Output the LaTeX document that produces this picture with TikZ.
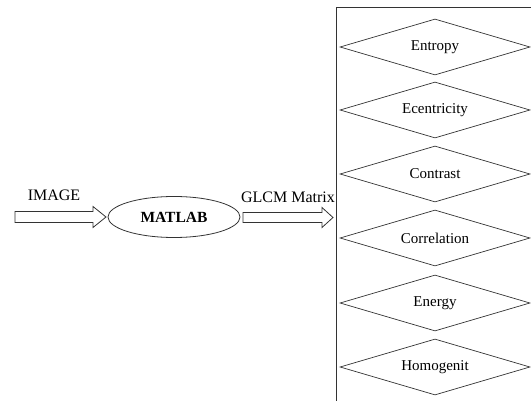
\documentclass[tikz,border=0pt]{standalone}
\usepackage{fontspec}
\setmainfont{Liberation Serif}
\usetikzlibrary{shapes.geometric}
\tikzset{
  feat/.style={draw=black!80, line width=0.7pt, shape=diamond, aspect=3.4, minimum width=190pt, minimum height=56pt, inner sep=0pt, font=\fontsize{15}{17}\selectfont},
  lbl/.style={font=\fontsize{16}{18}\selectfont, inner sep=0pt},
  barrow/.style={draw=black!80, line width=0.8pt, fill=white},
}
\begin{document}
\begin{tikzpicture}[x=1pt,y=-1pt]
\useasboundingbox (0,0) rectangle (531,401);
\clip (0,0) rectangle (531,401);
% container
\draw[black!80, line width=0.8pt] (336,7) rectangle (545,401);
% features
\node[feat] (f1) at (435,47) {Entropy};
\node[feat] (f2) at (435,110) {Ecentricity};
\node[feat] (f3) at (435,174) {Contrast};
\node[feat] (f4) at (435,238) {Correlation};
\node[feat] (f5) at (435,303) {Energy};
\node[feat] (f6) at (435,367) {Homogenit};
% main flow
\node[draw=black!80, line width=0.8pt, ellipse, minimum width=132pt, minimum height=41pt, inner sep=0pt, font=\fontsize{15.5}{17}\selectfont\bfseries] (m) at (174,217) {MATLAB};
\node[lbl] (img) at (54,195) {IMAGE};
\node[lbl] (glcm) at (288,197) {GLCM Matrix};
\coordinate (a1s) at (15,217);
\coordinate (a1e) at (106,217);
\coordinate (a2s) at (243,217.5);
\coordinate (a2e) at (333,217.5);
% block arrows
\draw[barrow] ([yshift=-5.5pt]a1s) -- ([xshift=-13pt,yshift=-5.5pt]a1e) -- ([xshift=-13pt,yshift=-10.5pt]a1e) -- (a1e) -- ([xshift=-13pt,yshift=10.5pt]a1e) -- ([xshift=-13pt,yshift=5.5pt]a1e) -- ([yshift=5.5pt]a1s) -- cycle;
\draw[barrow] ([yshift=-5pt]a2s) -- ([xshift=-11pt,yshift=-5pt]a2e) -- ([xshift=-11pt,yshift=-10pt]a2e) -- (a2e) -- ([xshift=-11pt,yshift=10pt]a2e) -- ([xshift=-11pt,yshift=5pt]a2e) -- ([yshift=5pt]a2s) -- cycle;
\end{tikzpicture}
\end{document}
